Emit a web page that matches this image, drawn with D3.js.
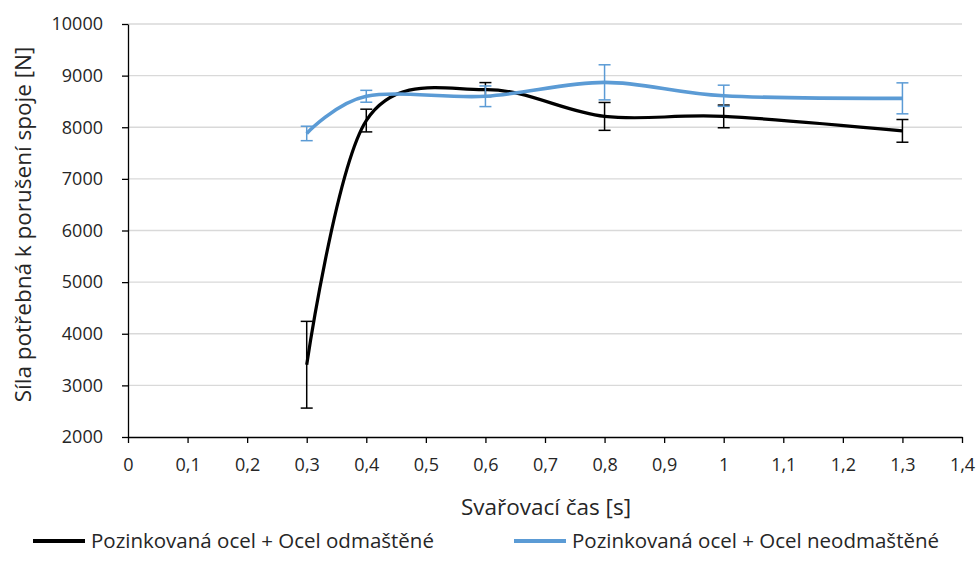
<!DOCTYPE html>
<html>
<head>
<meta charset="utf-8">
<script src="https://cdn.jsdelivr.net/npm/d3@7"></script>
<style>
  body { margin: 0; background: #fff; }
  text { font-family: "Open Sans", "Liberation Sans", sans-serif; fill: #262626; }
</style>
</head>
<body>
<svg id="chart" width="979" height="577"></svg>
<script>
// Data
const times = [0.3, 0.4, 0.6, 0.8, 1.0, 1.3];
const odmastene = [3400, 8130, 8730, 8210, 8210, 7930];
const odmasteneErr = [840, 220, 135, 270, 220, 220];
const neodmastene = [7880, 8600, 8600, 8870, 8610, 8560];
const neodmasteneErr = [140, 115, 200, 340, 205, 300];
const xTicks = [0, 0.1, 0.2, 0.3, 0.4, 0.5, 0.6, 0.7, 0.8, 0.9, 1.0, 1.1, 1.2, 1.3, 1.4];
const yTicks = [2000, 3000, 4000, 5000, 6000, 7000, 8000, 9000, 10000];
const seriesNames = ["Pozinkovaná ocel + Ocel odmaštěné", "Pozinkovaná ocel + Ocel neodmaštěné"];

const series = [
    {name: seriesNames[0], color: "#000000", width: 3.2, values: odmastene, err: odmasteneErr},
    {name: seriesNames[1], color: "#5b9bd5", width: 3.6, values: neodmastene, err: neodmasteneErr}
];

const svg = d3.select("#chart");
const margin = {left: 128, right: 17, top: 24, bottom: 140};
const W = 979, H = 577;

const x = d3.scaleLinear().domain([0, 1.4]).range([margin.left, W - margin.right]);
const y = d3.scaleLinear().domain([2000, 10000]).range([H - margin.bottom, margin.top]);

// gridlines
svg.append("g")
    .selectAll("line")
    .data(yTicks.slice(1))
    .enter().append("line")
    .attr("x1", x(0)).attr("x2", x(1.4))
    .attr("y1", d => y(d)).attr("y2", d => y(d))
    .attr("stroke", "#d9d9d9").attr("stroke-width", 1.3);

// axes
const fmt = d => String(d).replace(".", ",");
const xAxis = svg.append("g")
    .attr("transform", `translate(0,${y(2000)})`)
    .call(d3.axisBottom(x).tickValues(xTicks).tickFormat(fmt).tickSize(6).tickSizeOuter(0).tickPadding(15));
const yAxis = svg.append("g")
    .attr("transform", `translate(${x(0)},0)`)
    .call(d3.axisLeft(y).tickValues(yTicks).tickFormat(d => String(d)).tickSize(6).tickSizeOuter(0).tickPadding(19));
[xAxis, yAxis].forEach(a => {
    a.selectAll("path, line").attr("stroke", "#000").attr("stroke-width", 1.3);
    a.selectAll("text").style("font-size", "18px").attr("fill", "#262626")
        .style("font-family", "'Open Sans', 'Liberation Sans', sans-serif");
});

// lines
const line = d3.line()
    .x((d, i) => x(times[i]))
    .y(d => y(d))
    .curve(d3.curveCatmullRom.alpha(0));

series.forEach(s => {
    const g = svg.append("g");
    // error bars
    times.forEach((t, i) => {
        const cx = x(t), top = y(s.values[i] + s.err[i]), bot = y(s.values[i] - s.err[i]);
        g.append("line").attr("x1", cx).attr("x2", cx).attr("y1", top).attr("y2", bot)
            .attr("stroke", s.color).attr("stroke-width", 1.5);
        [top, bot].forEach(yy => g.append("line")
            .attr("x1", cx - 6).attr("x2", cx + 6).attr("y1", yy).attr("y2", yy)
            .attr("stroke", s.color).attr("stroke-width", 1.5));
    });
    g.append("path")
        .datum(s.values)
        .attr("d", line)
        .attr("fill", "none")
        .attr("stroke", s.color)
        .attr("stroke-width", s.width);
});

// axis titles
svg.append("text")
    .attr("x", x(0.7) + 1).attr("y", 515)
    .attr("text-anchor", "middle")
    .style("font-size", "22.5px")
    .text("Svařovací čas [s]");
svg.append("text")
    .attr("transform", `translate(31,${y(6000) - 6}) rotate(-90)`)
    .attr("text-anchor", "middle")
    .style("font-size", "22.5px")
    .text("Síla potřebná k porušení spoje [N]");

// legend
const legendX = [33, 514];
series.forEach((s, i) => {
    svg.append("line")
        .attr("x1", legendX[i]).attr("x2", legendX[i] + 52)
        .attr("y1", 541).attr("y2", 541)
        .attr("stroke", s.color).attr("stroke-width", 4);
    svg.append("text")
        .attr("x", legendX[i] + 58).attr("y", 548)
        .style("font-size", "20.5px")
        .text(s.name);
});
</script>
</body>
</html>
